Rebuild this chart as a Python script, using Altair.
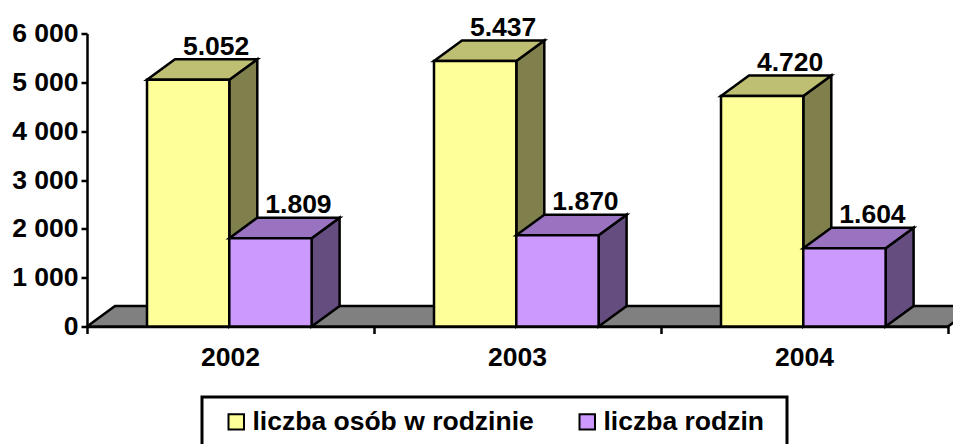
import altair as alt
import pandas as pd

years = ["2002", "2003", "2004"]
series = ["liczba osób w rodzinie", "liczba rodzin"]
osoby = [5052, 5437, 4720]
rodziny = [1809, 1870, 1604]
labels_osoby = ["5.052", "5.437", "4.720"]
labels_rodziny = ["1.809", "1.870", "1.604"]
y_ticks = [0, 1000, 2000, 3000, 4000, 5000, 6000]

front_colors = ["#FFFF99", "#CC99FF"]
side_colors = ["#80804D", "#664D80"]
top_colors = ["#BFBF73", "#9973BF"]
floor_color = "#808080"
FONT = "Liberation Sans"
FS = 26.5

W, H = 861, 293
DX = 28 / W * 3            # depth, in x-scale units
DY = 20.5 / H * 6000       # depth, in y-scale units
GAP = 60 / W * 3
BAR = 82.3 / W * 3

xs = alt.Scale(domain=[0, 3], nice=False, zero=False)
ys = alt.Scale(domain=[0, 6000], nice=False)
X0 = alt.Axis(values=[0, 1, 2, 3], labels=False, title=None, grid=False, tickSize=7,
              tickWidth=2.5, domainWidth=2.5, tickColor="black", domainColor="black")
Y0 = alt.Axis(values=y_ticks, title=None, grid=False, tickSize=6, tickWidth=2.5, domainWidth=2.5,
              tickColor="black", domainColor="black", labelFont=FONT, labelFontWeight="bold",
              labelFontSize=FS, labelColor="black", labelPadding=3,
              labelExpr="replace(format(datum.value, ','), ',', ' ')")

front, side, top, text = [], [], [], []
for i, y in enumerate(years):
    for s, vals, labs in ((0, osoby, labels_osoby), (1, rodziny, labels_rodziny)):
        v = vals[i]
        x0 = i + GAP + s * BAR
        x1 = x0 + BAR
        front.append(dict(id=f"{y}{s}", s=s, name=series[s], x0=x0, x1=x1, v=v))
        side.append(dict(id=f"{y}{s}", s=s, x=x1, lo=0, hi=v))
        side.append(dict(id=f"{y}{s}", s=s, x=x1 + DX, lo=DY, hi=v + DY))
        top.append(dict(id=f"{y}{s}", s=s, y=v, a=x0, b=x1))
        top.append(dict(id=f"{y}{s}", s=s, y=v + DY, a=x0 + DX, b=x1 + DX))
        text.append(dict(x=(x0 + x1) / 2 + DX, y=v + DY, t=labs[i]))
front, side, top, text = map(pd.DataFrame, (front, side, top, text))

floor = pd.DataFrame({"y": [0, DY], "a": [0, DX], "b": [3, 3 + DX]})
year_df = pd.DataFrame({"x": [0.5, 1.5, 2.5], "t": years})

base_line = dict(stroke="black", strokeWidth=2.5, clip=False)

layers = [
    alt.Chart(floor).mark_area(orient="horizontal", color=floor_color, **base_line).encode(
        y=alt.Y("y:Q", scale=ys, axis=Y0),
        x=alt.X("a:Q", scale=xs, axis=X0),
        x2="b:Q",
    )
]
for s in (0, 1):
    layers.append(
        alt.Chart(side[side.s == s]).mark_area(color=side_colors[s], **base_line).encode(
            x=alt.X("x:Q", scale=xs), y=alt.Y("lo:Q", scale=ys), y2="hi:Q", detail="id:N"
        )
    )
    layers.append(
        alt.Chart(top[top.s == s]).mark_area(orient="horizontal", color=top_colors[s], **base_line).encode(
            y=alt.Y("y:Q", scale=ys), x=alt.X("a:Q", scale=xs), x2="b:Q", detail="id:N"
        )
    )
    layers.append(
        alt.Chart(front[front.s == s]).mark_rect(stroke="black", strokeWidth=2.5, clip=False).encode(
            x=alt.X("x0:Q", scale=xs),
            x2="x1:Q",
            y=alt.Y("v:Q", scale=ys),
            y2=alt.Y2(datum=0),
            color=alt.Color(
                "name:N",
                sort=series,
                scale=alt.Scale(domain=series, range=front_colors),
                legend=alt.Legend(
                    orient="none", legendX=136, legendY=375, direction="horizontal", title=None,
                    padding=0, symbolType="square", symbolSize=240, symbolStrokeColor="black",
                    symbolStrokeWidth=2, labelFont=FONT, labelFontWeight="bold", labelFontSize=FS,
                    labelColor="black", columnPadding=40, labelOffset=3, symbolOpacity=1,
                    labelLimit=1000,
                ),
            ),
        )
    )

layers.append(
    alt.Chart(text).mark_text(font=FONT, fontWeight="bold", fontSize=FS, color="black",
                              baseline="alphabetic", dy=-4.5, clip=False).encode(
        x=alt.X("x:Q", scale=xs), y=alt.Y("y:Q", scale=ys), text="t:N"
    )
)
layers.append(
    alt.Chart(year_df).mark_text(font=FONT, fontWeight="bold", fontSize=FS, color="black",
                                 baseline="alphabetic").encode(
        x=alt.X("x:Q", scale=xs), y=alt.value(H + 39), text="t:N"
    )
)
frame = alt.Chart(pd.DataFrame({"k": ["legend"]})).mark_rect(
    filled=False, stroke="black", strokeWidth=3, clip=False
).encode(x=alt.value(115), x2=alt.value(700), y=alt.value(363.5), y2=alt.value(430))
layers.append(frame)

chart = alt.layer(*layers).resolve_scale(x="shared", y="shared").properties(
    width=W, height=H,
    padding={"left": 79, "top": 25.5, "right": 5, "bottom": 117},
    autosize=alt.AutoSizeParams(type="none"),
    background="white",
).configure_view(stroke=None)

chart.save("out.html", embed_options={"renderer": "svg", "actions": False})
